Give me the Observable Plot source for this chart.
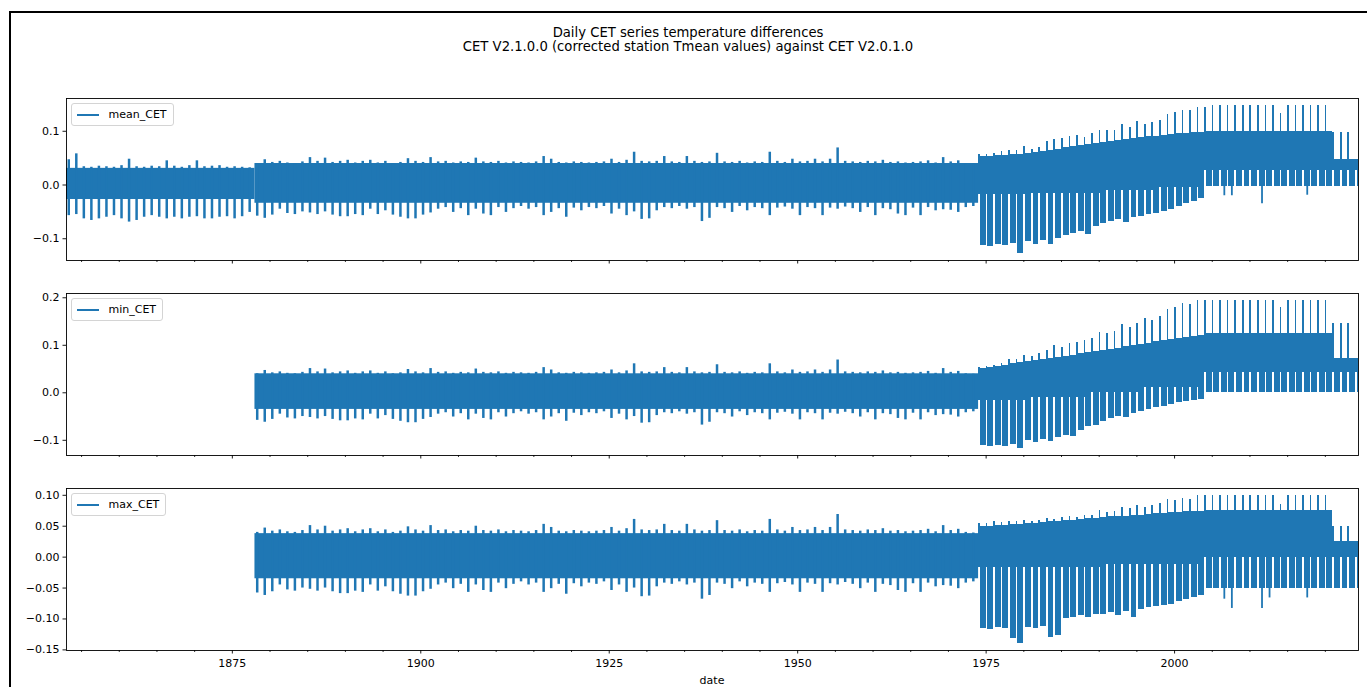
<!DOCTYPE html>
<html>
<head>
<meta charset="utf-8">
<script src="https://cdn.jsdelivr.net/npm/d3@7"></script>
<script src="https://cdn.jsdelivr.net/npm/@observablehq/plot@0.6"></script>
<style>
  html, body { margin: 0; padding: 0; background: #fff; }
  #fig { position: relative; width: 1367px; height: 687px; overflow: hidden; background: #fff; font-family: "DejaVu Sans", sans-serif; color: #000; }
  #border { position: absolute; left: 9px; top: 11px; width: 1400px; height: 700px; border-left: 2px solid #000; border-top: 2px solid #000; }
  .ttl { position: absolute; left: 10px; width: 1356px; text-align: center; font-size: 13.2px; line-height: 14px; white-space: nowrap; }
  .legend { position: absolute; display: flex; align-items: center; height: 23px; box-sizing: border-box; padding: 0 6px 0 4.5px; border: 1px solid #d4d4d4; border-radius: 3px; background: rgba(255,255,255,0.8); font-size: 11px; z-index: 2; }
  .legend .sw { width: 22px; height: 2px; background: #1f77b4; margin-right: 10px; }
  #xlabel { position: absolute; left: 66px; width: 1292px; text-align: center; top: 674px; font-size: 11px; line-height: 13px; }
</style>
</head>
<body>
<div id="fig">
  <div id="border"></div>
  <div class="ttl" style="top:25.5px">Daily CET series temperature differences</div>
  <div class="ttl" style="top:39.5px">CET V2.1.0.0 (corrected station Tmean values) against CET V2.0.1.0</div>
  <div id="xlabel">date</div>
</div>
<script>
// ---------------- data (temperature differences in thousandths of a degree) ----------------
const majorTicks = [1875, 1900, 1925, 1950, 1975, 2000];
const minorTicks = [1855, 1860, 1865, 1870, 1880, 1885, 1890, 1895, 1905, 1910, 1915, 1920,
                    1930, 1935, 1940, 1945, 1955, 1960, 1965, 1970, 1980, 1985, 1990, 1995,
                    2005, 2010, 2015, 2020];
const xDomain = [1853.0, 2024.4];

// years 1853-1877 (mean_CET only): yearly extremes
const meanEarlyYears = d3.range(1853, 1878);
const meanEarlyUp   = [47,58,34,33,35,34,33,36,48,34, 33,35,34,45,35,33,36,45,34,35, 36,33,34,33,32];
const meanEarlyDown = [-57,-55,-63,-66,-63,-60,-57,-63,-69,-66, -60,-57,-60,-63,-60,-63,-60,-59,-63,-63, -60,-59,-63,-59,-51];

// years 1878-1973 (same pattern in all three series): yearly extremes
const preYears = d3.range(1878, 1974);
const preUp = [
  40,47,42,44,41,40,43,51,44,50,
  42,44,46,41,44,46,41,44,40,42,
  49,44,42,51,43,44,41,43,42,50,
  43,42,44,41,43,42,41,43,53,48,
  42,41,43,42,41,42,43,48,42,46,
  61,44,43,44,53,43,42,53,44,42,
  43,59,43,42,44,41,43,42,61,44,
  42,48,43,44,48,43,48,69,44,43,
  42,44,43,46,42,43,41,42,43,45,
  41,51,43,45,40,39];
const preDown = [
  -58,-62,-56,-45,-53,-55,-50,-52,-55,-50,
  -56,-59,-59,-55,-57,-45,-55,-48,-56,-60,
  -63,-63,-56,-52,-45,-42,-51,-44,-57,-45,
  -54,-57,-42,-51,-44,-40,-45,-42,-57,-51,
  -44,-60,-43,-48,-42,-44,-40,-54,-45,-57,
  -50,-64,-63,-48,-42,-44,-40,-45,-42,-68,
  -62,-42,-44,-51,-40,-48,-42,-44,-57,-43,
  -41,-45,-57,-42,-44,-57,-43,-45,-41,-44,
  -51,-42,-57,-44,-46,-54,-57,-43,-57,-42,
  -48,-46,-47,-51,-42,-40];

// dense core band before 1974
const meanBandFrom = [1853, 1878], meanBandTo = [1878, 1974], meanBandLo = [-27, -34], meanBandHi = [31, 40];
const minBandFrom  = [1878], minBandTo = [1974], minBandLo = [-35], minBandHi = [40];
const maxBandFrom  = [1878], maxBandTo = [1974], maxBandLo = [-35], maxBandHi = [38];

// years 1974-2024: yearly band (hi/lo) and the narrow annual spike (gap bottom .. spike top)
const postYears = d3.range(1974, 2025);
const meanHi = [53,53,54,55,56,57,59,61,63,65, 67,69,71,73,75,77,79,81,83,84, 86,88,90,91,93,94,95,96,97,98,
                100,100,100,100,100,100,100,100,100,100, 100,100,100,100,100,100,100, 48,48,48,48];
const meanLo = [-112,-114,-110,-112,-108,-127,-106,-110,-104,-110, -100,-94,-90,-86,-92,-78,-72,-68,-65,-70,
                -60,-58,-55,-53,-50,-45,-40,-35,-30,-26,
                -2,-2,-2,-2,-2,-2,-2,-2,-2,-2, -2,-2,-2,-2,-2,-2,-2, -2,-2,-2,-2];
const meanGap = [-18,-18,-18,-18,-18,-18,-18,-15,-15,-15, -15,-15,-15,-15,-15,-15,-15,-10,-10,-10,
                 -10,-10,-10,-10,-5,-5,-5,-5,-5,-5,
                 27,27,27,27,27,27,27,27,27,27, 27,27,27,27,27,27,27, 27,27,27,27];
const meanSpike = [56,57,58,62,65,64,71,66,70,81, 84,87,90,92,89,96,102,101,101,112, 107,118,113,116,120,131,135,138,139,144,
                   145,148,148,148,148,148,148,148,148,148, 134,148,148,148,148,148,148, 98,98,98,48];

const minHi = [52,54,56,58,61,63,65,68,70,73, 75,77,79,82,84,86,89,91,94,97, 99,102,104,107,110,113,115,117,119,121,
               124,124,124,124,124,124,124,124,124,124, 124,124,124,124,124,124,124, 73,73,73,73];
const minLo = [-112,-114,-110,-113,-108,-118,-100,-104,-98,-102, -94,-90,-92,-80,-72,-68,-60,-55,-50,-52,
               -44,-40,-36,-32,-28,-24,-20,-18,-16,-14,
               0,0,0,0,0,0,0,0,0,0, 0,0,0,0,0,0,0, 0,0,0,0];
const minGap = [-16,-16,-16,-16,-16,-16,-16,-10,-10,-10, -10,-10,-10,-10,-10,0,0,0,0,0,
                0,0,12,12,12,12,12,12,12,12,
                43,43,43,43,43,43,43,43,43,43, 43,43,43,43,43,43,43, 43,43,43,43];
const minSpike = [54,56,58,62,71,70,79,76,82,88, 99,96,103,106,110,114,127,124,130,143, 138,146,157,152,160,175,180,187,186,194,
                  194,194,194,194,194,194,194,194,194,194, 180,194,194,194,194,194,194, 145,145,145,73];

const maxHi = [50,50,51,51,52,53,54,55,56,57, 58,59,60,61,62,63,64,65,66,66, 67,68,69,70,71,72,72,73,73,74,
               75,75,75,75,75,75,75,75,75,75, 75,75,75,75,75,75,75, 25,25,25,25];
const maxLo = [-116,-117,-114,-116,-132,-140,-113,-115,-112,-130, -127,-100,-97,-95,-98,-93,-92,-90,-94,-88,
               -97,-84,-82,-80,-78,-76,-72,-68,-65,-62,
               -50,-50,-50,-50,-50,-50,-50,-50,-50,-50, -50,-50,-50,-50,-50,-50,-50, -50,-50,-50,-50];
const maxGap = [-17,-17,-17,-17,-17,-17,-17,-17,-17,-17, -17,-17,-17,-17,-17,-17,-17,-12,-12,-12,
                -12,-12,-12,-12,-12,-12,-12,-12,-12,-12,
                0,0,0,0,0,0,0,0,0,0, 0,0,0,0,0,0,0, 0,0,0,0];
const maxSpike = [55,55,57,56,58,57,60,58,60,62, 61,64,65,64,68,67,75,72,74,80, 78,83,80,84,86,93,92,95,93,99,
                  99,99,99,99,99,99,99,99,99,99, 85,99,99,99,99,99,99, 50,50,50,25];

// occasional short dips below the band after 2004
const meanDipYears = [2006, 2007, 2011, 2017], meanDipVals = [-20, -20, -35, -19];
const maxDipYears  = [2006, 2007, 2011, 2012, 2017], maxDipVals = [-68, -83, -83, -66, -66];

// y axes
const meanYTicks = [-0.1, 0.0, 0.1], minYTicks = [-0.1, 0.0, 0.1, 0.2],
      maxYTicks = [-0.15, -0.10, -0.05, 0.00, 0.05, 0.10];
const meanYDomain = [-0.1405, 0.1610], minYDomain = [-0.1320, 0.2090], maxYDomain = [-0.1510, 0.1110];

// ---------------- drawing ----------------
const BLUE = "#1f77b4";
const k = v => v / 1000;
const fig = document.getElementById("fig");
const hasAxisMarks = typeof Plot.axisX === "function";

function drawPanel(cfg) {
  const MT = 6, MB = 28, IH = 162;
  const band = cfg.bandFrom.map((f, i) => ({x1: f, x2: cfg.bandTo[i], y1: k(cfg.bandLo[i]), y2: k(cfg.bandHi[i])}));
  const spikes = [];
  if (cfg.earlyYears) cfg.earlyYears.forEach((yr, i) => spikes.push({x: yr + 0.3, y1: k(cfg.earlyDown[i]), y2: k(cfg.earlyUp[i])}));
  preYears.forEach((yr, i) => spikes.push({x: yr + 0.3, y1: k(preDown[i]), y2: k(preUp[i])}));
  const post = postYears.map((yr, i) => ({yr, hi: k(cfg.hi[i]), lo: k(cfg.lo[i]), gap: k(cfg.gap[i]), spike: k(cfg.spike[i])}));
  const dips = (cfg.dipYears || []).map((yr, i) => ({x: yr + 0.6, y1: k(cfg.lo[postYears.indexOf(yr)]), y2: k(cfg.dipVals[i])}));
  const G = 0.22;
  const fmt = cfg.yFmt;
  const marks = [
    Plot.rect(band, {x1: "x1", x2: "x2", y1: "y1", y2: "y2", fill: BLUE, clip: true}),
    Plot.ruleX(spikes, {x: "x", y1: "y1", y2: "y2", stroke: BLUE, strokeWidth: 2.5, clip: true}),
    Plot.rect(post, {x1: d => d.yr + G, x2: d => d.yr + 1, y1: "lo", y2: "hi", fill: BLUE, clip: true, shapeRendering: "crispEdges"}),
    Plot.rect(post, {x1: d => d.yr, x2: d => d.yr + G, y1: "gap", y2: "spike", fill: BLUE, clip: true, shapeRendering: "crispEdges"}),
    Plot.ruleX(dips, {x: "x", y1: "y1", y2: "y2", stroke: BLUE, strokeWidth: 1.8, clip: true}),
    Plot.frame({stroke: "#000", strokeWidth: 0.9})
  ];
  const opts = {
    width: 1367, height: MT + IH + MB,
    marginLeft: 66, marginRight: 9, marginTop: MT, marginBottom: MB,
    style: {fontFamily: "DejaVu Sans, sans-serif", fontSize: "11px", color: "#000", background: "transparent", overflow: "visible"},
    x: {type: "linear", domain: xDomain},
    y: {type: "linear", domain: cfg.yDomain},
    marks
  };
  if (hasAxisMarks) {
    marks.push(
      Plot.axisY({ticks: cfg.yTicks, tickFormat: fmt, tickSize: 3.5, tickPadding: 3.5, label: null, strokeWidth: 0.9}),
      Plot.axisX({ticks: majorTicks, tickSize: 3.5, tickPadding: 5,
                  tickFormat: cfg.xLabels ? (d => String(d)) : (() => ""), label: null, strokeWidth: 0.9}),
      Plot.axisX({ticks: minorTicks, tickSize: 2, tickFormat: () => "", label: null, strokeWidth: 0.8})
    );
  } else {
    opts.x.ticks = majorTicks; opts.x.tickSize = 3.5; opts.x.label = null;
    opts.x.tickFormat = cfg.xLabels ? (d => String(d)) : (() => "");
    opts.y.ticks = cfg.yTicks; opts.y.tickFormat = fmt; opts.y.tickSize = 3.5; opts.y.label = null;
  }
  const svg = Plot.plot(opts);
  svg.style.position = "absolute";
  svg.style.left = "0px";
  svg.style.top = (cfg.top - MT) + "px";
  fig.appendChild(svg);

  const lg = document.createElement("div");
  lg.className = "legend";
  lg.style.left = "71px";
  lg.style.top = (cfg.top + 5) + "px";
  lg.innerHTML = '<div class="sw"></div><div>' + cfg.name + '</div>';
  fig.appendChild(lg);
}

drawPanel({name: "mean_CET", top: 98, yDomain: meanYDomain, yTicks: meanYTicks, yFmt: d3.format(".1f"),
  bandFrom: meanBandFrom, bandTo: meanBandTo, bandLo: meanBandLo, bandHi: meanBandHi,
  earlyYears: meanEarlyYears, earlyUp: meanEarlyUp, earlyDown: meanEarlyDown,
  hi: meanHi, lo: meanLo, gap: meanGap, spike: meanSpike, dipYears: meanDipYears, dipVals: meanDipVals});
drawPanel({name: "min_CET", top: 293, yDomain: minYDomain, yTicks: minYTicks, yFmt: d3.format(".1f"),
  bandFrom: minBandFrom, bandTo: minBandTo, bandLo: minBandLo, bandHi: minBandHi,
  hi: minHi, lo: minLo, gap: minGap, spike: minSpike});
drawPanel({name: "max_CET", top: 488, yDomain: maxYDomain, yTicks: maxYTicks, yFmt: d3.format(".2f"), xLabels: true,
  bandFrom: maxBandFrom, bandTo: maxBandTo, bandLo: maxBandLo, bandHi: maxBandHi,
  hi: maxHi, lo: maxLo, gap: maxGap, spike: maxSpike, dipYears: maxDipYears, dipVals: maxDipVals});
</script>
</body>
</html>
